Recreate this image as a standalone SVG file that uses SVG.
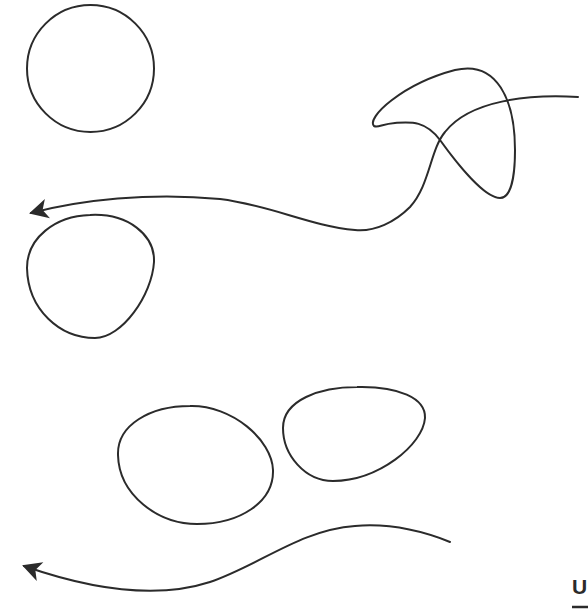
<svg xmlns="http://www.w3.org/2000/svg" width="588" height="610" viewBox="0 0 588 610">
<style>
.s{fill:none;stroke:#2b2b2b;stroke-width:2;stroke-linecap:round;stroke-linejoin:round}
.t{font-family:"Liberation Sans",Arial,sans-serif;font-size:21px;font-weight:bold;fill:#2b2b2b}
</style>
<defs>
<marker id="ah" markerUnits="userSpaceOnUse" markerWidth="26" markerHeight="26" viewBox="-22 -13 26 26" refX="0" refY="0" orient="auto">
<path d="M 2 0 L -17 -10 L -12 0 L -17 10 Z" fill="#2b2b2b"/>
</marker>
</defs>
<rect width="588" height="610" fill="#fff"/>
<g id="circle"><circle class="s" cx="90.5" cy="68.5" r="63.5"/></g>
<g id="egg"><path class="s" d="M 90 215 C 128 213 155 235 154 262 C 152 295 122 338 95 338 C 60 338 28 310 27 268 C 27 238 55 216 90 215 Z"/></g>
<g id="blob1"><path class="s" d="M 190 406 C 232 405 272 440 273 470 C 274 502 240 524 197 524 C 158 524 119 495 118 455 C 117 425 150 406 190 406 Z"/></g>
<g id="blob2"><path class="s" d="M 357 387 C 398 386 426 398 425 418 C 423 445 378 481 333 481 C 305 481 283 455 283 428 C 283 400 320 387 357 387 Z"/></g>
<g id="loop"><path class="s" d="M 374 126 C 366 118 402 84 455 70 C 497 60 515 100 515 150 C 515 180 510 198 500 198 C 485 198 458 165 440 140 C 425 120 410 122 395 123 C 382 124 378 128 374 126 Z"/></g>
<g id="connectors">
<path class="s" marker-end="url(#ah)" d="M 578 97 C 530 94 470 100 445 132 C 430 150 430 185 410 207 C 395 222 375 232 355 230 C 310 226 270 205 220 199 C 150 192 80 200 31 213"/>
<path class="s" marker-end="url(#ah)" d="M 450 542 C 420 530 390 523 355 526 C 300 530 260 565 210 582 C 170 595 110 596 24 566"/>
</g>
<g id="label"><text class="t" x="572" y="594">U</text><line x1="572" y1="607" x2="590" y2="607" stroke="#2b2b2b" stroke-width="2.5"/></g>
</svg>
